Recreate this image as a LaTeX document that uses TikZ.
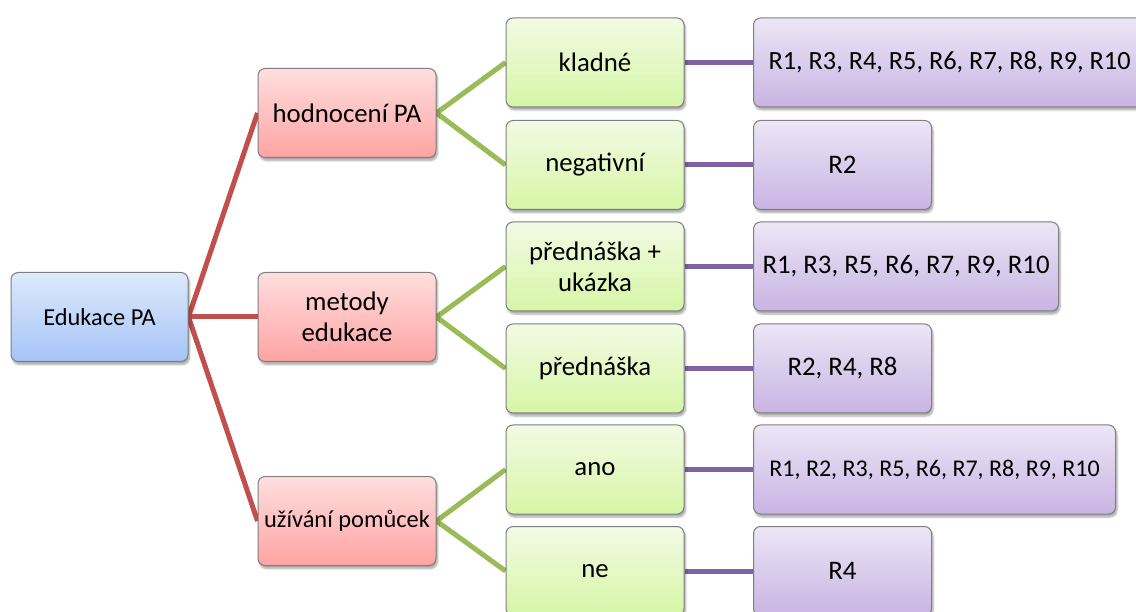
\documentclass[tikz,border=0pt]{standalone}
\usepackage{fontspec}
\setmainfont{Carlito}
\usetikzlibrary{shadows,shadows.blur,backgrounds}
\definecolor{linkred}{HTML}{C0504D}
\definecolor{linkgreen}{HTML}{9BBB59}
\definecolor{linkpurple}{HTML}{8064A2}
\definecolor{edge}{HTML}{7F7F7F}
\tikzset{
  box/.style={draw=edge, line width=1pt, rounded corners=7pt, align=center,
    minimum height=89pt, inner sep=2pt, font=\fontsize{26.8}{31}\selectfont,
    blur shadow={shadow xshift=1.5pt, shadow yshift=-3pt, shadow blur steps=6, shadow opacity=35}},
  rootbox/.style={box, top color={rgb,255:red,221;green,233;blue,252},
    bottom color={rgb,255:red,166;green,196;blue,247}, minimum width=177pt},
  catbox/.style={box, top color={rgb,255:red,255;green,222;blue,222},
    bottom color={rgb,255:red,255;green,163;blue,163}, minimum width=178pt},
  optbox/.style={box, top color={rgb,255:red,242;green,250;blue,228},
    bottom color={rgb,255:red,214;green,246;blue,166}, minimum width=178pt},
  resbox/.style={box, anchor=west, top color={rgb,255:red,236;green,230;blue,246},
    bottom color={rgb,255:red,200;green,180;blue,227}},
  redlink/.style={draw=linkred, line width=5pt},
  greenlink/.style={draw=linkgreen, line width=5pt},
  purplelink/.style={draw=linkpurple, line width=5pt},
}
\begin{document}
\begin{tikzpicture}[x=1pt, y=-1pt]
\useasboundingbox (0,0) rectangle (1136,612);
\clip (0,0) rectangle (1136,612);

% root
\node[rootbox, font=\fontsize{24.4}{28}\selectfont] (root) at (99.5,317) {Edukace PA};

% categories
\node[catbox] (hod) at (347,113) {hodnocení PA};
\node[catbox] (met) at (347,317) {metody\\edukace};
\node[catbox, font=\fontsize{24.4}{28}\selectfont] (uzi) at (347,521) {užívání pomůcek};

% options
\node[optbox] (kla) at (595,62.5) {kladné};
\node[optbox] (neg) at (595,165) {negativní};
\node[optbox] (pu)  at (595,266.5) {přednáška +\\ukázka};
\node[optbox] (pr)  at (595,368.5) {přednáška};
\node[optbox] (ano) at (595,469.5) {ano};
\node[optbox] (ne)  at (595,571) {ne};

% respondents
\node[resbox, minimum width=392pt, font=\fontsize{26.3}{31}\selectfont] (r1) at (753,62.5) {R1, R3, R4, R5, R6, R7, R8, R9, R10};
\node[resbox, minimum width=178pt] (r2) at (753,165) {R2};
\node[resbox, minimum width=305pt] (r3) at (753,266.5) {R1, R3, R5, R6, R7, R9, R10};
\node[resbox, minimum width=178pt] (r4) at (753,368.5) {R2, R4, R8};
\node[resbox, minimum width=362pt, font=\fontsize{24}{28}\selectfont] (r5) at (753,469.5) {R1, R2, R3, R5, R6, R7, R8, R9, R10};
\node[resbox, minimum width=178pt] (r6) at (753,571) {R4};

% links, kept behind the boxes
\begin{pgfonlayer}{background}
\draw[redlink] (root.east) -- (hod.west);
\draw[redlink] (root.east) -- (met.west);
\draw[redlink] (root.east) -- (uzi.west);
\draw[greenlink] (hod.east) -- (kla.west);
\draw[greenlink] (hod.east) -- (neg.west);
\draw[greenlink] (met.east) -- (pu.west);
\draw[greenlink] (met.east) -- (pr.west);
\draw[greenlink] (uzi.east) -- (ano.west);
\draw[greenlink] (uzi.east) -- (ne.west);
\draw[purplelink] (kla.east) -- (r1.west);
\draw[purplelink] (neg.east) -- (r2.west);
\draw[purplelink] (pu.east) -- (r3.west);
\draw[purplelink] (pr.east) -- (r4.west);
\draw[purplelink] (ano.east) -- (r5.west);
\draw[purplelink] (ne.east) -- (r6.west);
\end{pgfonlayer}
\end{tikzpicture}
\end{document}
